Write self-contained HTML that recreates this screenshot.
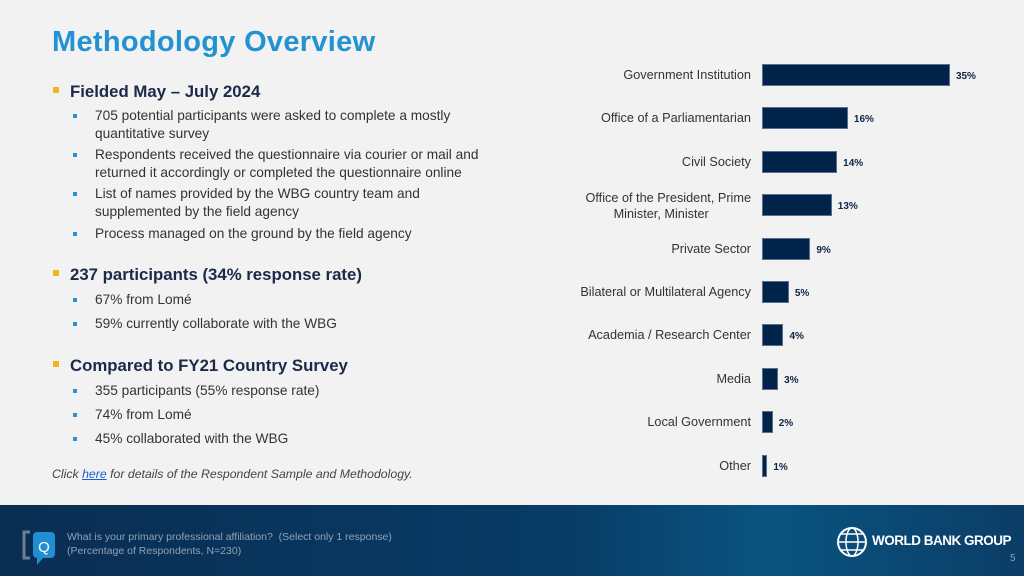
<!DOCTYPE html>
<html><head><meta charset="utf-8">
<style>
*{margin:0;padding:0;box-sizing:border-box}
body{width:1024px;height:576px;overflow:hidden;background:#f2f2f2;font-family:"Liberation Sans",sans-serif;position:relative}
.abs{position:absolute;white-space:nowrap}
.title{left:52px;top:26px;font-size:29px;font-weight:bold;color:#2392d0;letter-spacing:0.3px}
.h{left:70px;font-size:16.8px;font-weight:bold;color:#1b2a48}
.hb{position:absolute;left:53px;width:6px;height:6px;background:#f2b51b}
.s{left:95px;font-size:13.7px;color:#333;line-height:18px}
.sb{position:absolute;left:73px;width:4px;height:4px;background:#2f8fd0}
.lbl{font-size:12.7px;color:#333;text-align:right;right:273px;line-height:16px}
.val{font-size:10px;font-weight:bold;color:#0f2544}
.bar{position:absolute;background:#00234a;border:1px solid #5a6f8c}
footer{position:absolute;left:0;top:505px;width:1024px;height:71px;background:linear-gradient(90deg,#0a2d52 0%,#083c66 55%,#0a5481 75%,#0b3d66 100%)}
</style></head><body>
<div class="abs title">Methodology Overview</div>

<div class="hb" style="top:87px"></div>
<div class="abs h" style="top:82px">Fielded May – July 2024</div>
<div class="sb" style="top:114px"></div><div class="abs s" style="top:107px">705 potential participants were asked to complete a mostly<br>quantitative survey</div>
<div class="sb" style="top:153px"></div><div class="abs s" style="top:146px">Respondents received the questionnaire via courier or mail and<br>returned it accordingly or completed the questionnaire online</div>
<div class="sb" style="top:192px"></div><div class="abs s" style="top:185px">List of names provided by the WBG country team and<br>supplemented by the field agency</div>
<div class="sb" style="top:232px"></div><div class="abs s" style="top:225px">Process managed on the ground by the field agency</div>

<div class="hb" style="top:270px"></div>
<div class="abs h" style="top:265px">237 participants (34% response rate)</div>
<div class="sb" style="top:298px"></div><div class="abs s" style="top:291px">67% from Lomé</div>
<div class="sb" style="top:322px"></div><div class="abs s" style="top:315px">59% currently collaborate with the WBG</div>

<div class="hb" style="top:361px"></div>
<div class="abs h" style="top:356px">Compared to FY21 Country Survey</div>
<div class="sb" style="top:389px"></div><div class="abs s" style="top:382px">355 participants (55% response rate)</div>
<div class="sb" style="top:413px"></div><div class="abs s" style="top:406px">74% from Lomé</div>
<div class="sb" style="top:437px"></div><div class="abs s" style="top:430px">45% collaborated with the WBG</div>

<div class="abs" style="left:52px;top:467px;font-size:12.3px;font-style:italic;color:#444">Click <a href="#" style="color:#1a5fd0">here</a> for details of the Respondent Sample and Methodology.</div>

<div id="chart"></div>

<footer>
<svg class="abs" style="left:20px;top:25px" width="40" height="36">
<path d="M10 2 H4 V28 H10" stroke="#6a7f96" stroke-width="3" fill="none"/>
<rect x="13" y="2" width="22" height="26" rx="4" fill="#1f8fd0"/><path d="M17 28 L17 35 L23 28Z" fill="#1f8fd0"/>
<text x="24" y="22" font-size="15" fill="#fff" text-anchor="middle" font-family="Liberation Sans">Q</text></svg>
<div class="abs" style="left:67px;top:26px;font-size:10.5px;color:#8fa3b8;line-height:13.5px">What is your primary professional affiliation?&nbsp; (Select only 1 response)<br>(Percentage of Respondents, N=230)</div>
<svg class="abs" style="left:835px;top:20px" width="34" height="34"><circle cx="17" cy="17" r="14" stroke="#fff" stroke-width="2" fill="none"/><ellipse cx="17" cy="17" rx="6" ry="14" stroke="#fff" stroke-width="1.5" fill="none"/><path d="M3 17H31M6 9H28M6 25H28" stroke="#fff" stroke-width="1.5"/></svg>
<div class="abs" style="left:872px;top:28px;font-size:13.5px;font-weight:bold;color:#fff;letter-spacing:-0.5px">WORLD BANK GROUP</div>
<div class="abs" style="left:1010px;top:48px;font-size:10px;color:#8fa3b8">5</div>
</footer>

<script>
const categories=["Government Institution","Office of a Parliamentarian","Civil Society","Office of the President, Prime Minister, Minister","Private Sector","Bilateral or Multilateral Agency","Academia / Research Center","Media","Local Government","Other"];
const values=[35,16,14,13,9,5,4,3,2,1];
const valueLabels=["35%","16%","14%","13%","9%","5%","4%","3%","2%","1%"];
const chart=document.getElementById('chart');
const x0=762,pxPer=5.37,y0=75,step=43.4,bh=22;
const xs=v=>v*pxPer, ys=i=>y0+i*step;
categories.forEach((c,i)=>{
  const cy=ys(i);
  const l=document.createElement('div');
  l.className='abs lbl';
  
  
  if(c.startsWith("Office of the President")){l.innerHTML="Office of the President, Prime<br>Minister, Minister&nbsp;&nbsp;&nbsp;&nbsp;";l.style.textAlign='center';l.style.top=(cy-15)+'px';}
  else{l.textContent=c;l.style.top=(cy-8)+'px';}
  chart.appendChild(l);
  const b=document.createElement('div');
  b.className='bar';
  
  
  b.style.left=x0+'px';b.style.top=(cy-bh/2)+'px';b.style.width=xs(values[i])+'px';b.style.height=bh+'px';
  chart.appendChild(b);
  const v=document.createElement('div');
  v.className='abs val';
  
  
  v.textContent=valueLabels[i];
  v.style.left=(x0+xs(values[i])+6)+'px';v.style.top=(cy-4)+'px';
  chart.appendChild(v);
});
</script>
</body></html>
